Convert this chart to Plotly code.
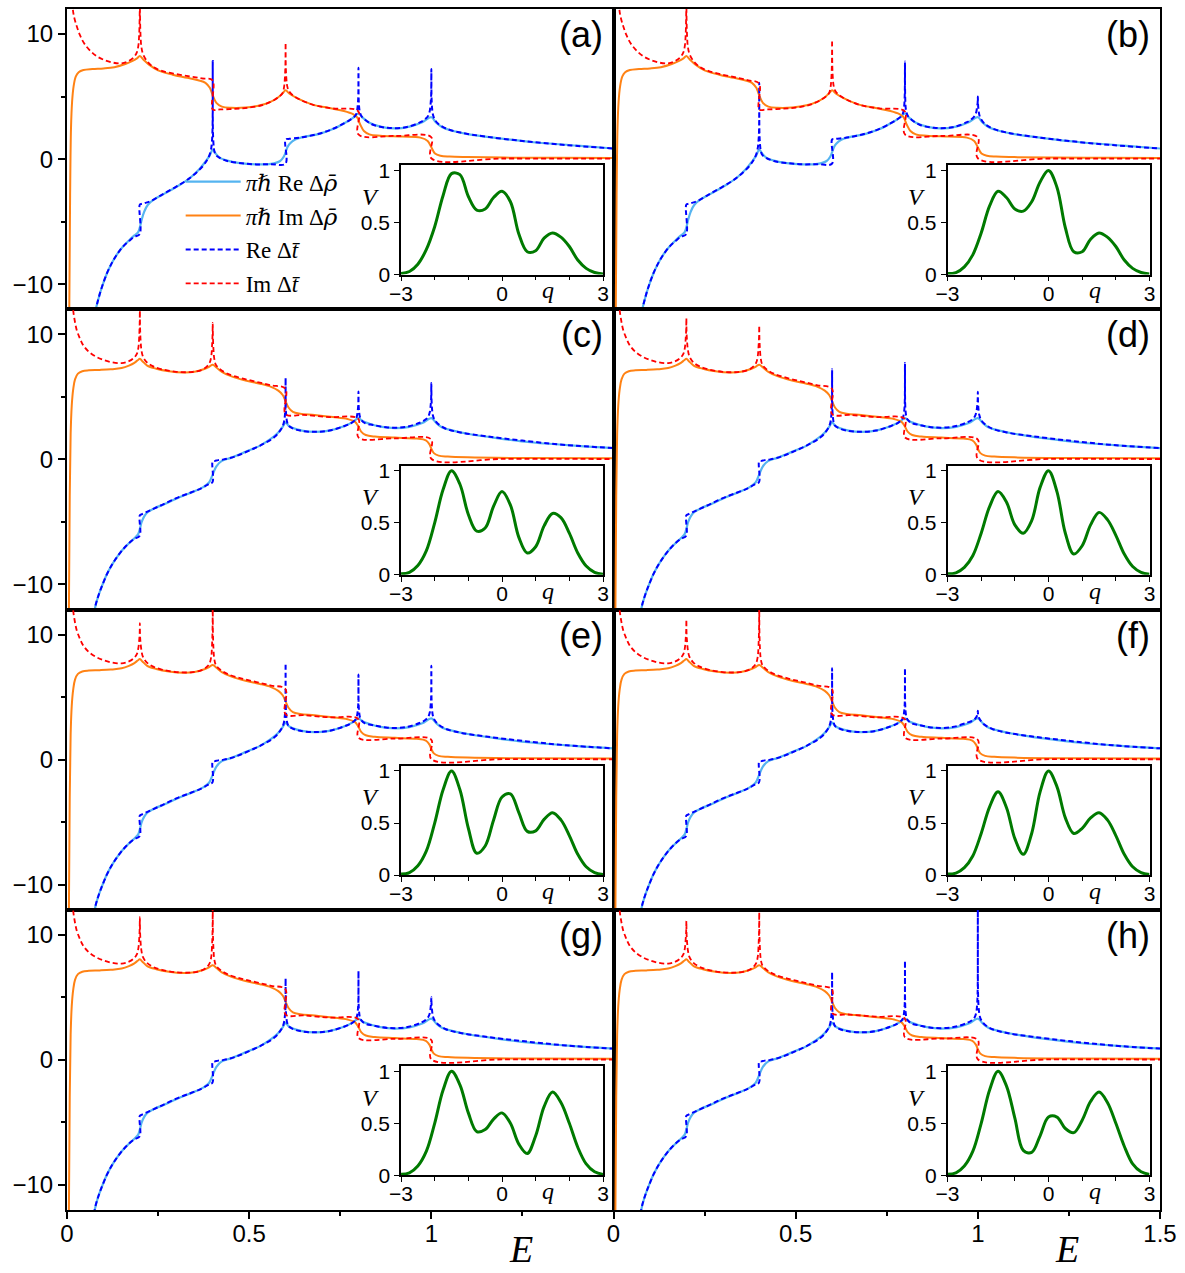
import plotly.graph_objects as go

# ---------------------------------------------------------------- data
# Family 1: panels (a), (b)  -- energies E and values
E_RERHO_1 = [0.07, 0.076, 0.085, 0.095, 0.11, 0.125, 0.14, 0.155, 0.17, 0.185,
             0.195, 0.2, 0.205, 0.212, 0.222, 0.24, 0.27, 0.31, 0.34, 0.365,
             0.38, 0.392, 0.4, 0.408, 0.42, 0.44, 0.47, 0.52, 0.56, 0.585,
             0.595, 0.6, 0.605, 0.612, 0.625, 0.65, 0.69, 0.73, 0.76, 0.785,
             0.8, 0.812, 0.83, 0.86, 0.9, 0.94, 0.975, 1.0, 1.012, 1.03,
             1.06, 1.1, 1.18, 1.28, 1.4, 1.5]
RERHO_AB = [-13.5, -12.4, -11.3, -10.3, -9.1, -8.2, -7.5, -6.95, -6.5, -6.1,
            -5.85, -5.45, -4.85, -4.2, -3.65, -3.2, -2.72, -2.05, -1.45, -0.75,
            -0.2, 0.3, 0.77, 0.45, 0.1, -0.12, -0.3, -0.42, -0.38, -0.15,
            0.2, 0.55, 0.95, 1.25, 1.55, 1.78, 2.0, 2.4, 2.85, 3.3,
            3.65, 3.3, 2.9, 2.6, 2.45, 2.6, 2.95, 3.35, 2.95, 2.55,
            2.25, 2.0, 1.68, 1.35, 1.08, 0.85]

E_IMRHO_1 = [0.006, 0.0085, 0.011, 0.014, 0.018, 0.024, 0.032, 0.045, 0.07, 0.1,
             0.13, 0.16, 0.18, 0.192, 0.2, 0.21, 0.225, 0.25, 0.29, 0.33,
             0.36, 0.38, 0.392, 0.4, 0.41, 0.425, 0.45, 0.49, 0.53, 0.56,
             0.58, 0.593, 0.6, 0.61, 0.63, 0.67, 0.72, 0.76, 0.785, 0.796,
             0.805, 0.815, 0.83, 0.86, 0.92, 0.97, 0.99, 1.0, 1.01, 1.025,
             1.05, 1.1, 1.2, 1.35, 1.5]
IMRHO_AB = [-13, -3, 2.5, 4.6, 5.8, 6.6, 6.95, 7.12, 7.2, 7.25,
            7.35, 7.6, 7.85, 8.05, 8.24, 7.95, 7.55, 7.1, 6.75, 6.5,
            6.3, 6.1, 5.7, 5.1, 4.5, 4.2, 4.1, 4.12, 4.3, 4.6,
            4.95, 5.3, 5.5, 5.25, 4.9, 4.4, 4.08, 3.85, 3.6, 3.35,
            2.75, 2.25, 1.98, 1.87, 1.8, 1.72, 1.45, 0.95, 0.45, 0.27,
            0.2, 0.16, 0.12, 0.1, 0.08]

E_RET_1 = [0.072, 0.076, 0.085, 0.095, 0.11, 0.125, 0.14, 0.155, 0.17, 0.185,
           0.1995, 0.2, 0.206, 0.215, 0.23, 0.26, 0.3, 0.34, 0.37, 0.385,
           0.392, 0.396, 0.398, 0.3995, 0.4, 0.4005, 0.402, 0.404, 0.408, 0.418,
           0.44, 0.48, 0.52, 0.56, 0.5995, 0.6, 0.61, 0.64, 0.68, 0.72,
           0.76, 0.78, 0.792, 0.796, 0.798, 0.7995, 0.8, 0.8005, 0.802, 0.804,
           0.808, 0.818, 0.84, 0.88, 0.93, 0.97, 0.985, 0.992, 0.996, 0.998,
           0.9995, 1.0, 1.0005, 1.002, 1.004, 1.008, 1.018, 1.04, 1.08, 1.15,
           1.25, 1.37, 1.5]
RET_A = [-13.5, -12.4, -11.3, -10.3, -9.1, -8.2, -7.5, -6.95, -6.55, -6.2,
         -6.0, -3.63, -3.57, -3.5, -3.35, -2.85, -2.2, -1.45, -0.65, -0.05,
         0.4, 0.9, 1.45, 2.5, 7.85, 2.3, 1.25, 0.7, 0.35, 0.12,
         -0.15, -0.33, -0.42, -0.4, -0.37, 1.57, 1.62, 1.72, 1.95, 2.3,
         2.85, 3.2, 3.5, 3.85, 4.3, 5.0, 7.3, 4.9, 4.1, 3.75,
         3.45, 3.15, 2.75, 2.5, 2.55, 2.95, 3.25, 3.5, 3.9, 4.4,
         5.1, 7.2, 5.0, 4.1, 3.6, 3.25, 2.85, 2.45, 2.12, 1.8,
         1.45, 1.12, 0.85]
RET_B = [-13.5, -12.4, -11.3, -10.3, -9.1, -8.2, -7.5, -6.95, -6.55, -6.2,
         -6.0, -3.63, -3.57, -3.5, -3.35, -2.85, -2.2, -1.45, -0.65, -0.05,
         0.4, 0.9, 1.45, 2.3, 6.1, 2.2, 1.25, 0.7, 0.35, 0.12,
         -0.15, -0.33, -0.42, -0.4, -0.37, 1.57, 1.62, 1.72, 1.95, 2.3,
         2.85, 3.2, 3.5, 3.85, 4.3, 5.2, 7.8, 5.1, 4.1, 3.75,
         3.45, 3.15, 2.75, 2.5, 2.55, 2.95, 3.25, 3.5, 3.8, 4.2,
         4.5, 5.0, 4.4, 3.9, 3.55, 3.25, 2.85, 2.45, 2.12, 1.8,
         1.45, 1.12, 0.85]

E_IMT_1 = [0.012, 0.016, 0.02, 0.027, 0.035, 0.045, 0.06, 0.08, 0.1, 0.125,
           0.15, 0.17, 0.185, 0.192, 0.196, 0.198, 0.1995, 0.2, 0.2005, 0.202,
           0.204, 0.208, 0.218, 0.235, 0.26, 0.3, 0.34, 0.37, 0.3995, 0.4,
           0.42, 0.46, 0.5, 0.54, 0.57, 0.585, 0.592, 0.596, 0.598, 0.5995,
           0.6, 0.6005, 0.602, 0.604, 0.608, 0.618, 0.64, 0.68, 0.73, 0.7995,
           0.8, 0.9, 0.9995, 1.0, 1.2, 1.5]
IMT_A = [14.5, 12.0, 11.3, 10.6, 9.95, 9.35, 8.77, 8.25, 7.95, 7.72,
         7.65, 7.85, 8.2, 8.55, 9.1, 9.9, 11.5, 14.0, 11.3, 9.8,
         9.0, 8.45, 7.9, 7.4, 7.05, 6.8, 6.6, 6.45, 6.3, 3.97,
         3.97, 4.02, 4.12, 4.35, 4.75, 5.05, 5.3, 5.8, 6.5, 7.6,
         9.3, 7.5, 6.5, 5.9, 5.5, 5.15, 4.75, 4.3, 4.05, 3.82,
         1.97, 1.85, 1.76, 0.07, 0.05, 0.04]
IMT_B = [14.5, 12.0, 11.3, 10.6, 9.95, 9.35, 8.77, 8.25, 7.95, 7.72,
         7.65, 7.85, 8.2, 8.55, 9.1, 9.9, 11.5, 14.0, 11.3, 9.8,
         9.0, 8.45, 7.9, 7.4, 7.05, 6.75, 6.5, 6.3, 6.05, 3.97,
         3.97, 4.02, 4.12, 4.35, 4.75, 5.05, 5.3, 5.8, 6.5, 7.7,
         9.5, 7.6, 6.5, 5.9, 5.5, 5.15, 4.75, 4.3, 4.05, 3.82,
         1.97, 1.85, 1.76, 0.07, 0.05, 0.04]

# Family 2: panels (c) ... (h)
E_RERHO_2 = [0.07, 0.076, 0.085, 0.095, 0.11, 0.125, 0.14, 0.155, 0.17, 0.185,
             0.195, 0.2, 0.205, 0.212, 0.222, 0.24, 0.27, 0.31, 0.35, 0.375,
             0.39, 0.4, 0.41, 0.425, 0.45, 0.49, 0.53, 0.56, 0.58, 0.592,
             0.6, 0.608, 0.62, 0.645, 0.68, 0.72, 0.76, 0.785, 0.8, 0.812,
             0.83, 0.86, 0.9, 0.94, 0.975, 1.0, 1.012, 1.03, 1.06, 1.1,
             1.18, 1.28, 1.4, 1.5]
RERHO_CH = [-13.6, -12.0, -11.0, -10.2, -9.15, -8.35, -7.7, -7.15, -6.7, -6.3,
            -6.0, -5.55, -5.0, -4.55, -4.2, -3.9, -3.55, -3.0, -2.55, -2.2,
            -1.85, -1.2, -0.55, -0.12, 0.12, 0.6, 1.1, 1.65, 2.15, 2.6,
            2.95, 2.7, 2.5, 2.3, 2.2, 2.3, 2.65, 3.0, 3.3, 3.05,
            2.85, 2.62, 2.5, 2.6, 2.9, 3.3, 2.95, 2.55, 2.3, 2.05,
            1.7, 1.35, 1.08, 0.9]

E_IMRHO_2 = [0.005, 0.0075, 0.01, 0.013, 0.017, 0.022, 0.03, 0.042, 0.06, 0.09,
             0.12, 0.15, 0.17, 0.185, 0.194, 0.2, 0.207, 0.22, 0.245, 0.28,
             0.32, 0.35, 0.375, 0.39, 0.4, 0.41, 0.425, 0.45, 0.49, 0.53,
             0.56, 0.58, 0.592, 0.6, 0.608, 0.62, 0.64, 0.68, 0.73, 0.77,
             0.79, 0.8, 0.808, 0.82, 0.845, 0.9, 0.96, 0.985, 0.995, 1.0,
             1.007, 1.02, 1.045, 1.1, 1.25, 1.5]
IMRHO_CH = [-13, -3, 2.0, 4.3, 5.6, 6.4, 6.85, 7.05, 7.12, 7.15,
            7.2, 7.3, 7.5, 7.72, 7.92, 8.05, 7.85, 7.5, 7.25, 7.05,
            6.95, 7.0, 7.2, 7.4, 7.57, 7.35, 7.0, 6.65, 6.3, 6.05,
            5.8, 5.5, 5.15, 4.65, 4.15, 3.8, 3.65, 3.55, 3.38, 3.22,
            3.02, 2.62, 2.2, 1.95, 1.82, 1.74, 1.66, 1.52, 1.2, 0.85,
            0.5, 0.3, 0.22, 0.16, 0.11, 0.08]

E_RET_2 = [0.072, 0.076, 0.085, 0.095, 0.11, 0.125, 0.14, 0.155, 0.17, 0.185,
           0.1995, 0.2, 0.206, 0.215, 0.23, 0.26, 0.3, 0.34, 0.37, 0.39,
           0.3995, 0.4, 0.406, 0.415, 0.43, 0.46, 0.5, 0.54, 0.57, 0.585,
           0.592, 0.596, 0.598, 0.5995, 0.6, 0.6005, 0.602, 0.604, 0.608, 0.618,
           0.64, 0.68, 0.72, 0.76, 0.78, 0.792, 0.796, 0.798, 0.7995, 0.8,
           0.8005, 0.802, 0.804, 0.808, 0.818, 0.84, 0.88, 0.93, 0.97, 0.985,
           0.992, 0.996, 0.998, 0.9995, 1.0, 1.0005, 1.002, 1.004, 1.008, 1.018,
           1.04, 1.08, 1.15, 1.25, 1.37, 1.5]
RET_C = [-13.6, -12.0, -11.0, -10.2, -9.15, -8.35, -7.7, -7.15, -6.7, -6.35,
         -6.1, -4.47, -4.38, -4.25, -4.05, -3.65, -3.1, -2.65, -2.3, -1.95,
         -1.8, -0.15, -0.12, -0.06, 0.0, 0.22, 0.7, 1.25, 1.8, 2.3,
         2.65, 3.05, 3.5, 4.2, 6.5, 4.1, 3.4, 3.0, 2.7, 2.5,
         2.3, 2.2, 2.3, 2.65, 2.9, 3.2, 3.5, 3.9, 4.4, 5.43,
         4.3, 3.75, 3.4, 3.15, 2.9, 2.75, 2.55, 2.6, 2.95, 3.2,
         3.45, 3.8, 4.25, 4.9, 6.1, 4.8, 4.0, 3.55, 3.2, 2.85,
         2.45, 2.15, 1.85, 1.5, 1.15, 0.9]
RET_D = [-13.6, -12.0, -11.0, -10.2, -9.15, -8.35, -7.7, -7.15, -6.7, -6.35,
         -6.1, -4.47, -4.38, -4.25, -4.05, -3.65, -3.1, -2.65, -2.3, -1.95,
         -1.8, -0.15, -0.12, -0.06, 0.0, 0.22, 0.7, 1.25, 1.8, 2.3,
         2.65, 3.05, 3.55, 4.4, 7.2, 4.2, 3.45, 3.0, 2.7, 2.5,
         2.3, 2.2, 2.3, 2.65, 2.9, 3.2, 3.5, 3.9, 4.6, 7.7,
         4.5, 3.75, 3.4, 3.15, 2.9, 2.75, 2.55, 2.6, 2.95, 3.2,
         3.45, 3.8, 4.2, 4.7, 5.4, 4.6, 3.95, 3.55, 3.2, 2.85,
         2.45, 2.15, 1.85, 1.5, 1.15, 0.9]
RET_E = [-13.6, -12.0, -11.0, -10.2, -9.15, -8.35, -7.7, -7.15, -6.7, -6.35,
         -6.1, -4.47, -4.38, -4.25, -4.05, -3.65, -3.1, -2.65, -2.3, -1.95,
         -1.8, -0.15, -0.12, -0.06, 0.0, 0.22, 0.7, 1.25, 1.8, 2.3,
         2.65, 3.05, 3.55, 4.5, 7.7, 4.3, 3.45, 3.0, 2.7, 2.5,
         2.3, 2.2, 2.3, 2.65, 2.9, 3.2, 3.5, 3.9, 4.5, 6.8,
         4.4, 3.75, 3.4, 3.15, 2.9, 2.75, 2.55, 2.6, 2.95, 3.2,
         3.45, 3.8, 4.3, 5.0, 7.5, 4.9, 4.0, 3.55, 3.2, 2.85,
         2.45, 2.15, 1.85, 1.5, 1.15, 0.9]
RET_F = [-13.6, -12.0, -11.0, -10.2, -9.15, -8.35, -7.7, -7.15, -6.7, -6.35,
         -6.1, -4.47, -4.38, -4.25, -4.05, -3.65, -3.1, -2.65, -2.3, -1.95,
         -1.8, -0.15, -0.12, -0.06, 0.0, 0.22, 0.7, 1.25, 1.8, 2.3,
         2.65, 3.05, 3.55, 4.4, 7.3, 4.2, 3.45, 3.0, 2.7, 2.5,
         2.3, 2.2, 2.3, 2.65, 2.9, 3.2, 3.5, 3.9, 4.6, 7.3,
         4.5, 3.75, 3.4, 3.15, 2.9, 2.75, 2.55, 2.6, 2.95, 3.1,
         3.25, 3.4, 3.55, 3.7, 3.9, 3.65, 3.45, 3.3, 3.1, 2.8,
         2.45, 2.15, 1.85, 1.5, 1.15, 0.9]
RET_G = [-13.6, -12.0, -11.0, -10.2, -9.15, -8.35, -7.7, -7.15, -6.7, -6.35,
         -6.1, -4.47, -4.38, -4.25, -4.05, -3.65, -3.1, -2.65, -2.3, -1.95,
         -1.8, -0.15, -0.12, -0.06, 0.0, 0.22, 0.7, 1.25, 1.8, 2.3,
         2.65, 3.05, 3.5, 4.2, 6.5, 4.1, 3.4, 3.0, 2.7, 2.5,
         2.3, 2.2, 2.3, 2.65, 2.9, 3.2, 3.5, 3.9, 4.5, 7.1,
         4.4, 3.75, 3.4, 3.15, 2.9, 2.75, 2.55, 2.6, 2.95, 3.2,
         3.45, 3.75, 4.15, 4.6, 5.0, 4.5, 3.95, 3.55, 3.2, 2.85,
         2.45, 2.15, 1.85, 1.5, 1.15, 0.9]
RET_H = [-13.6, -12.0, -11.0, -10.2, -9.15, -8.35, -7.7, -7.15, -6.7, -6.35,
         -6.1, -4.47, -4.38, -4.25, -4.05, -3.65, -3.1, -2.65, -2.3, -1.95,
         -1.8, -0.15, -0.12, -0.06, 0.0, 0.22, 0.7, 1.25, 1.8, 2.3,
         2.65, 3.05, 3.55, 4.3, 7.0, 4.2, 3.45, 3.0, 2.7, 2.5,
         2.3, 2.2, 2.3, 2.65, 2.9, 3.2, 3.5, 3.9, 4.6, 7.9,
         4.5, 3.75, 3.4, 3.15, 2.9, 2.75, 2.55, 2.6, 2.95, 3.2,
         3.45, 3.85, 4.4, 5.5, 13.0, 5.4, 4.3, 3.7, 3.25, 2.85,
         2.45, 2.15, 1.85, 1.5, 1.15, 0.9]

E_IMT_2 = [0.012, 0.016, 0.02, 0.027, 0.035, 0.045, 0.06, 0.08, 0.1, 0.125,
           0.15, 0.17, 0.185, 0.192, 0.196, 0.198, 0.1995, 0.2, 0.2005, 0.202,
           0.204, 0.208, 0.218, 0.235, 0.26, 0.3, 0.34, 0.37, 0.385, 0.392,
           0.396, 0.398, 0.3995, 0.4, 0.4005, 0.402, 0.404, 0.408, 0.418, 0.44,
           0.48, 0.52, 0.56, 0.5995, 0.6, 0.65, 0.72, 0.7995, 0.8, 0.9,
           0.9995, 1.0, 1.2, 1.5]
IMT_C = [14.5, 12.2, 11.3, 10.3, 9.7, 9.1, 8.6, 8.2, 7.95, 7.75,
         7.7, 7.85, 8.15, 8.45, 8.95, 9.7, 10.9, 11.9, 10.7, 9.5,
         8.8, 8.25, 7.8, 7.45, 7.2, 7.0, 6.98, 7.15, 7.45, 7.75,
         8.25, 9.0, 10.0, 10.9, 9.9, 8.8, 8.1, 7.6, 7.25, 6.85,
         6.48, 6.2, 5.92, 5.65, 3.62, 3.55, 3.38, 3.24, 1.75, 1.68,
         1.6, 0.05, 0.04, 0.03]
IMT_D = [14.5, 12.2, 11.3, 10.3, 9.7, 9.1, 8.6, 8.2, 7.95, 7.75,
         7.7, 7.85, 8.15, 8.45, 8.95, 9.6, 10.4, 11.3, 10.2, 9.4,
         8.8, 8.25, 7.8, 7.45, 7.2, 7.0, 6.98, 7.15, 7.45, 7.75,
         8.25, 9.0, 9.8, 10.7, 9.7, 8.8, 8.1, 7.6, 7.25, 6.85,
         6.48, 6.2, 5.92, 5.65, 3.62, 3.55, 3.38, 3.24, 1.75, 1.68,
         1.6, 0.05, 0.04, 0.03]
IMT_E = [14.5, 12.2, 11.3, 10.3, 9.7, 9.1, 8.6, 8.2, 7.95, 7.75,
         7.7, 7.85, 8.15, 8.45, 8.95, 9.5, 10.1, 10.9, 9.9, 9.3,
         8.8, 8.25, 7.8, 7.45, 7.2, 7.0, 6.98, 7.15, 7.45, 7.75,
         8.25, 9.1, 10.5, 13.0, 10.3, 8.9, 8.1, 7.6, 7.25, 6.85,
         6.48, 6.2, 5.92, 5.65, 3.62, 3.55, 3.38, 3.24, 1.75, 1.68,
         1.6, 0.05, 0.04, 0.03]
IMT_F = [14.5, 12.2, 11.3, 10.3, 9.7, 9.1, 8.6, 8.2, 7.95, 7.75,
         7.7, 7.85, 8.15, 8.45, 8.95, 9.6, 10.3, 11.2, 10.1, 9.4,
         8.8, 8.25, 7.8, 7.45, 7.2, 7.0, 6.98, 7.15, 7.45, 7.75,
         8.25, 9.1, 10.5, 13.0, 10.3, 8.9, 8.1, 7.6, 7.25, 6.85,
         6.48, 6.2, 5.92, 5.65, 3.62, 3.55, 3.38, 3.24, 1.75, 1.68,
         1.6, 0.05, 0.04, 0.03]
IMT_G = [14.5, 12.2, 11.3, 10.3, 9.7, 9.1, 8.6, 8.2, 7.95, 7.75,
         7.7, 7.85, 8.15, 8.45, 8.95, 9.6, 10.5, 11.4, 10.3, 9.4,
         8.8, 8.25, 7.8, 7.45, 7.2, 7.0, 6.98, 7.15, 7.45, 7.75,
         8.25, 9.1, 10.4, 12.5, 10.2, 8.9, 8.1, 7.6, 7.25, 6.85,
         6.48, 6.2, 5.92, 5.65, 3.62, 3.55, 3.38, 3.24, 1.75, 1.68,
         1.6, 0.05, 0.04, 0.03]
IMT_H = [14.5, 12.2, 11.3, 10.3, 9.7, 9.1, 8.6, 8.2, 7.95, 7.75,
         7.7, 7.85, 8.15, 8.45, 8.95, 9.6, 10.3, 11.1, 10.1, 9.4,
         8.8, 8.25, 7.8, 7.45, 7.2, 7.0, 6.98, 7.15, 7.45, 7.75,
         8.25, 9.05, 10.3, 11.8, 10.1, 8.9, 8.1, 7.6, 7.25, 6.85,
         6.48, 6.2, 5.92, 5.65, 3.75, 3.62, 3.45, 3.3, 1.8, 1.7,
         1.6, 0.05, 0.04, 0.03]

# Inset potentials V(q)
Q = [-3, -2.75, -2.5, -2.25, -2, -1.75, -1.5, -1.25, -1, -0.75, -0.5, -0.25, 0,
     0.25, 0.5, 0.75, 1, 1.25, 1.5, 1.75, 2, 2.25, 2.5, 2.75, 3]
V_A = [0.01, 0.03, 0.1, 0.24, 0.46, 0.76, 0.97, 0.96, 0.75, 0.62, 0.63, 0.74, 0.8,
       0.7, 0.39, 0.22, 0.23, 0.35, 0.4, 0.36, 0.27, 0.14, 0.06, 0.02, 0.005]
V_B = [0.01, 0.02, 0.075, 0.19, 0.4, 0.66, 0.8, 0.74, 0.63, 0.61, 0.7, 0.89, 1.0,
       0.84, 0.45, 0.22, 0.22, 0.34, 0.4, 0.36, 0.27, 0.14, 0.06, 0.02, 0.005]
V_C = [0.01, 0.025, 0.09, 0.23, 0.5, 0.82, 1.0, 0.87, 0.58, 0.42, 0.45, 0.66, 0.8,
       0.67, 0.36, 0.21, 0.27, 0.47, 0.59, 0.55, 0.4, 0.21, 0.085, 0.025, 0.006]
V_D = [0.01, 0.02, 0.072, 0.184, 0.4, 0.656, 0.8, 0.7, 0.48, 0.4, 0.52, 0.84, 1.0,
       0.8, 0.4, 0.2, 0.28, 0.48, 0.6, 0.53, 0.38, 0.2, 0.08, 0.024, 0.006]
V_E = [0.01, 0.025, 0.09, 0.23, 0.5, 0.82, 1.0, 0.82, 0.45, 0.21, 0.28, 0.53, 0.75,
       0.78, 0.6, 0.42, 0.425, 0.535, 0.6, 0.53, 0.38, 0.2, 0.08, 0.024, 0.006]
V_F = [0.01, 0.02, 0.072, 0.184, 0.4, 0.656, 0.8, 0.65, 0.35, 0.2, 0.4, 0.8, 1.0,
       0.85, 0.55, 0.4, 0.45, 0.55, 0.6, 0.53, 0.38, 0.2, 0.08, 0.024, 0.006]
V_G = [0.01, 0.025, 0.09, 0.23, 0.5, 0.82, 1.0, 0.87, 0.6, 0.42, 0.44, 0.54, 0.6,
       0.5, 0.3, 0.21, 0.38, 0.66, 0.8, 0.7, 0.5, 0.27, 0.11, 0.034, 0.008]
V_H = [0.01, 0.025, 0.09, 0.23, 0.5, 0.82, 1.0, 0.86, 0.55, 0.24, 0.22, 0.38, 0.56,
       0.56, 0.45, 0.41, 0.53, 0.71, 0.8, 0.7, 0.5, 0.28, 0.11, 0.034, 0.008]

PANEL_LABELS = ["(a)", "(b)", "(c)", "(d)", "(e)", "(f)", "(g)", "(h)"]
RHO_BAR = '<span style="font-family:DejaVu Serif">ρ̄</span>'
SERIES_NAMES = ["<i>πℏ</i> Re Δ<i>" + RHO_BAR + "</i>",
                "<i>πℏ</i> Im Δ<i>" + RHO_BAR + "</i>",
                "Re Δ<i>t̄</i>", "Im Δ<i>t̄</i>"]

PANELS = [
    (E_RERHO_1, RERHO_AB, E_IMRHO_1, IMRHO_AB, E_RET_1, RET_A, E_IMT_1, IMT_A, V_A),
    (E_RERHO_1, RERHO_AB, E_IMRHO_1, IMRHO_AB, E_RET_1, RET_B, E_IMT_1, IMT_B, V_B),
    (E_RERHO_2, RERHO_CH, E_IMRHO_2, IMRHO_CH, E_RET_2, RET_C, E_IMT_2, IMT_C, V_C),
    (E_RERHO_2, RERHO_CH, E_IMRHO_2, IMRHO_CH, E_RET_2, RET_D, E_IMT_2, IMT_D, V_D),
    (E_RERHO_2, RERHO_CH, E_IMRHO_2, IMRHO_CH, E_RET_2, RET_E, E_IMT_2, IMT_E, V_E),
    (E_RERHO_2, RERHO_CH, E_IMRHO_2, IMRHO_CH, E_RET_2, RET_F, E_IMT_2, IMT_F, V_F),
    (E_RERHO_2, RERHO_CH, E_IMRHO_2, IMRHO_CH, E_RET_2, RET_G, E_IMT_2, IMT_G, V_G),
    (E_RERHO_2, RERHO_CH, E_IMRHO_2, IMRHO_CH, E_RET_2, RET_H, E_IMT_2, IMT_H, V_H),
]

# ---------------------------------------------------------------- style
C_RE_RHO = "#55b4f0"
C_IM_RHO = "#ff8214"
C_RE_T = "#0000ff"
C_IM_T = "#ff0000"
C_V = "#007a00"
SANS = "Liberation Sans, Arial, sans-serif"
SERIF = "Liberation Serif, DejaVu Serif, serif"
TICKFONT = dict(family=SANS, size=24, color="black")
INSETFONT = dict(family=SANS, size=21, color="black")

W, H = 1185, 1273
ML, MR, MT, MB = 67, 25, 3, 63
PW, PH = W - ML - MR, H - MT - MB
ROW_H = PH / 4.0


def px_x(px):
    return (px - ML) / PW


def px_y(py):
    return (H - MB - py) / PH


fig = go.Figure()
layout = {}
annotations = []

for i, (erR, rR, erI, rI, etR, tR, etI, tI, vv) in enumerate(PANELS):
    row, col = divmod(i, 2)
    k = i + 1
    j = i + 9
    x0 = 0.5 * col
    y0 = 0.75 - 0.25 * row
    xa = "x" if k == 1 else f"x{k}"
    ya = "y" if k == 1 else f"y{k}"
    xi, yi = f"x{j}", f"y{j}"
    first = (i == 0)

    specs = [
        (erR, rR, C_RE_RHO, 2.2, "solid"),
        (erI, rI, C_IM_RHO, 2.0, "solid"),
        (etR, tR, C_RE_T, 2.0, "5px,3px"),
        (etI, tI, C_IM_T, 1.8, "5px,3px"),
    ]
    for n, (ex, yv, c, w, d) in enumerate(specs):
        fig.add_trace(go.Scatter(
            x=ex, y=yv, mode="lines", name=SERIES_NAMES[n],
            legendgroup=f"g{n}", showlegend=first,
            line=dict(color=c, width=w, dash=d, shape="spline", smoothing=1.0,
                      simplify=False),
            xaxis=xa, yaxis=ya, hoverinfo="skip"))

    fig.add_trace(go.Scatter(
        x=Q, y=vv, mode="lines", showlegend=False,
        line=dict(color=C_V, width=3, shape="spline", smoothing=1.0),
        xaxis=xi, yaxis=yi, hoverinfo="skip"))

    # main axes
    xax = dict(domain=[x0, x0 + 0.5], range=[0, 1.5], anchor=ya,
               showline=True, mirror=True, linecolor="black", linewidth=2,
               showgrid=False, zeroline=False, fixedrange=True)
    if row == 3:
        tv = [0, 0.5, 1] if col == 0 else [0, 0.5, 1, 1.5]
        xax.update(ticks="outside", ticklen=7, tickwidth=1.5, tickcolor="black",
                   tickvals=tv, ticktext=[f"{t:g}" for t in tv], tickfont=TICKFONT,
                   ticklabelstandoff=-6,
                   minor=dict(tickvals=[0.25, 0.75, 1.25], ticks="outside",
                              ticklen=4, tickwidth=1.5, tickcolor="black"))
    else:
        xax.update(ticks="", showticklabels=False)
    yax = dict(domain=[y0, y0 + 0.25], range=[-12, 12], anchor=xa,
               showline=True, mirror=True, linecolor="black", linewidth=2,
               showgrid=False, zeroline=False, fixedrange=True)
    if col == 0:
        yax.update(ticks="outside", ticklen=7, tickwidth=1.5, tickcolor="black",
                   tickvals=[-10, 0, 10], tickfont=TICKFONT,
                   minor=dict(tickvals=[-5, 5], ticks="outside", ticklen=4,
                              tickwidth=1.5, tickcolor="black"))
    else:
        yax.update(ticks="", showticklabels=False)
    layout["xaxis" if k == 1 else f"xaxis{k}"] = xax
    layout["yaxis" if k == 1 else f"yaxis{k}"] = yax

    # inset axes (offsets in pixels from the bottom of the row)
    layout[f"xaxis{j}"] = dict(
        domain=[x0 + 0.3056, x0 + 0.4904], range=[-3, 3], anchor=yi,
        showline=True, mirror=True, linecolor="black", linewidth=1.5,
        showgrid=False, zeroline=False, fixedrange=True,
        ticks="outside", ticklen=5, tickwidth=1.2, tickcolor="black",
        tickvals=[-3, 0, 3], tickfont=INSETFONT, ticklabelstandoff=-6,
        minor=dict(tickvals=[-2, -1, 1, 2], ticks="outside", ticklen=4,
                   tickwidth=1.2, tickcolor="black"))
    layout[f"yaxis{j}"] = dict(
        domain=[y0 + 34.8 / PH, y0 + 144.7 / PH], range=[0, 1.05], anchor=xi,
        showline=True, mirror=True, linecolor="black", linewidth=1.5,
        showgrid=False, zeroline=False, fixedrange=True,
        ticks="outside", ticklen=5, tickwidth=1.2, tickcolor="black",
        tickvals=[0, 0.5, 1], ticktext=["0", "0.5", "1"], tickfont=INSETFONT)

    annotations.append(dict(
        text=PANEL_LABELS[i], xref=f"{xa} domain", yref=f"{ya} domain",
        x=0.985, y=0.99, xanchor="right", yanchor="top", showarrow=False,
        font=dict(family=SANS, size=36, color="black")))
    # V and q labels, placed relative to the row bottom (pixels)
    rows_below_px = (3 - row) * ROW_H
    annotations.append(dict(
        text="<i>V</i>", xref="paper", yref="paper",
        x=px_x(370) + 0.5 * col, y=(rows_below_px + 113) / PH,
        showarrow=False, xanchor="center", yanchor="middle",
        font=dict(family=SERIF, size=24, color="black")))
    annotations.append(dict(
        text="<i>q</i>", xref="paper", yref="paper",
        x=px_x(548) + 0.5 * col, y=(rows_below_px + 19) / PH,
        showarrow=False, xanchor="center", yanchor="middle",
        font=dict(family=SERIF, size=24, color="black")))
    if row == 3:
        annotations.append(dict(
            text="<i>E</i>", xref=xa, yref="paper", x=1.245, y=px_y(1272),
            showarrow=False, xanchor="center", yanchor="bottom",
            font=dict(family=SERIF, size=38, color="black")))

fig.update_layout(
    width=W, height=H,
    margin=dict(l=ML, r=MR, t=MT, b=MB),
    plot_bgcolor="white", paper_bgcolor="white",
    hovermode=False,
    showlegend=True,
    legend=dict(x=0.104, y=px_y(155), xanchor="left", yanchor="top",
                bgcolor="rgba(255,255,255,0)", borderwidth=0,
                font=dict(family=SERIF, size=23, color="black"),
                itemwidth=55, tracegroupgap=1, traceorder="grouped",
                itemclick=False, itemdoubleclick=False),
    annotations=annotations,
    **layout,
)

fig.write_html("out.html", config={"displayModeBar": False},
               post_script="document.body.style.margin='0px';"
                           "document.body.style.overflow='hidden';")
